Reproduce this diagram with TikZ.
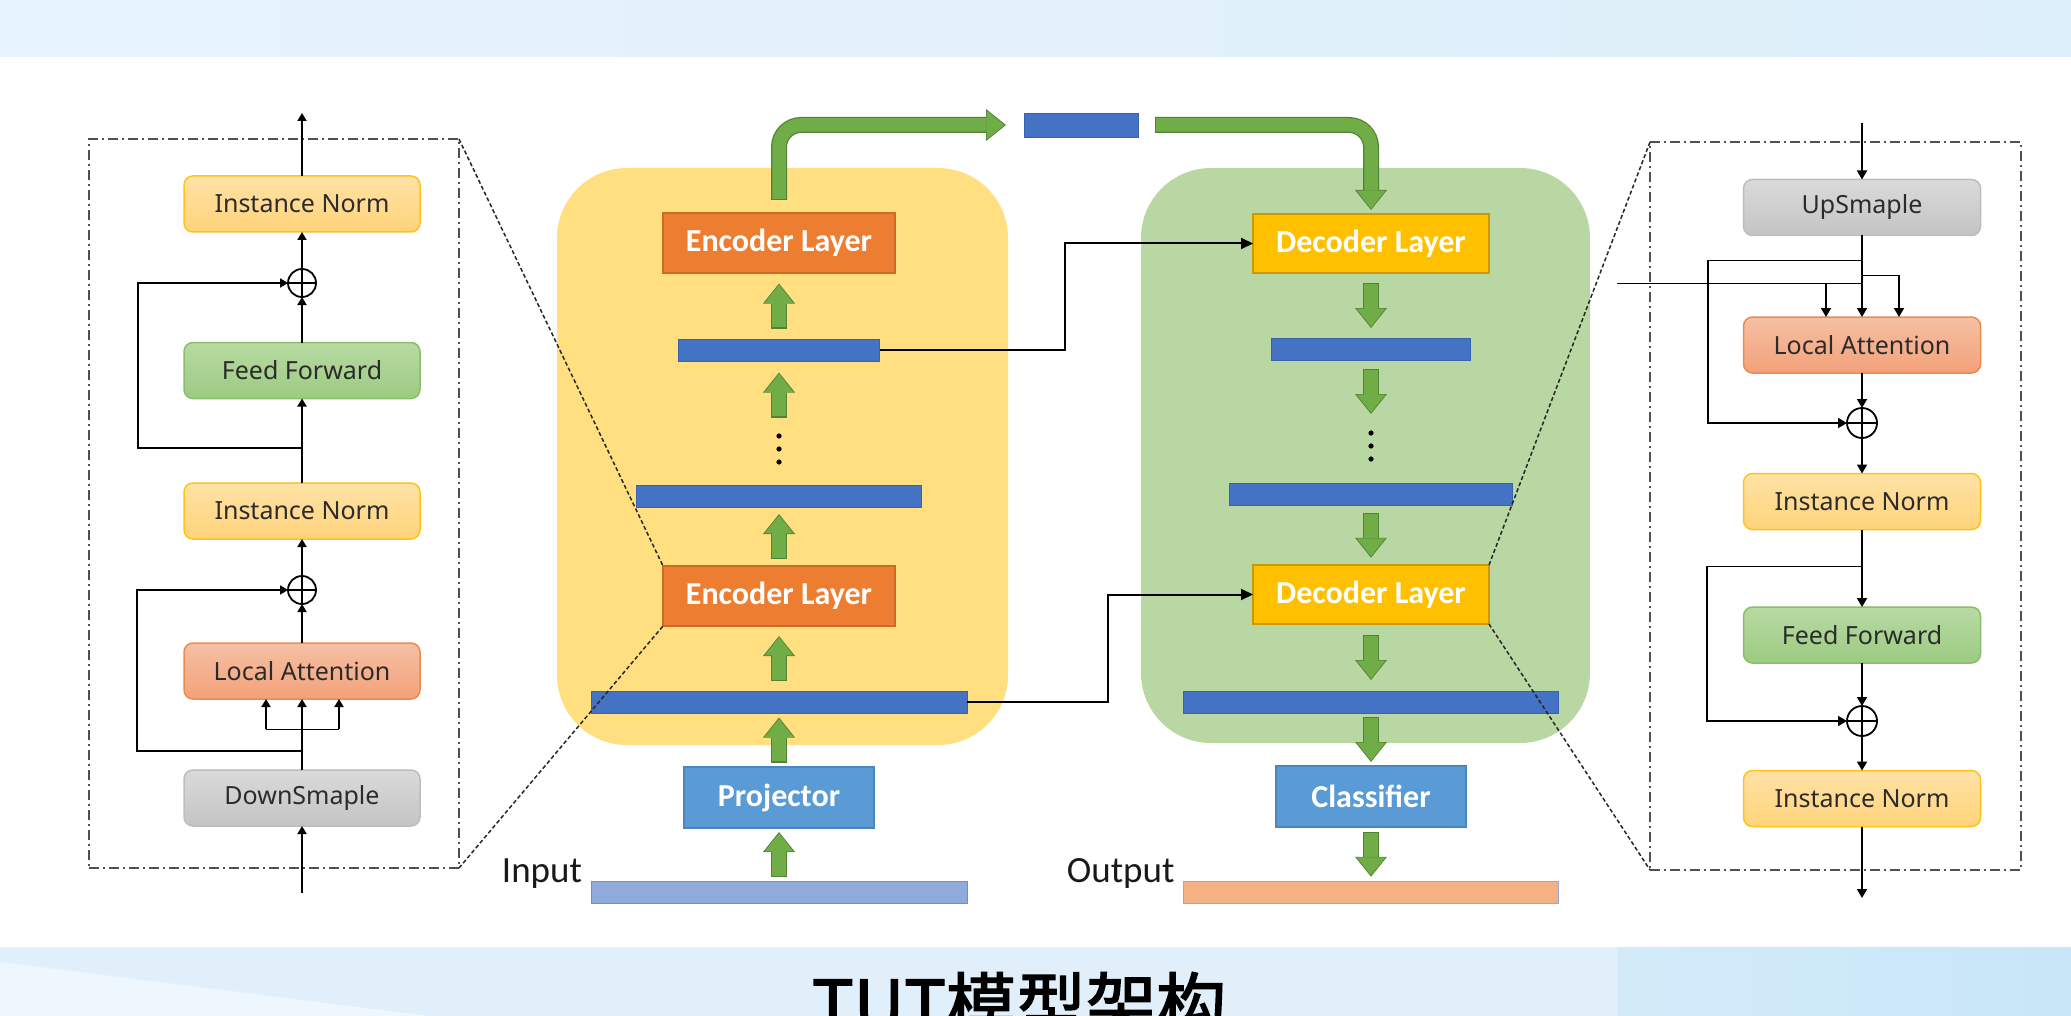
\documentclass[tikz,border=0pt]{standalone}
\usepackage{fontspec}
\setmainfont{Carlito}
\newfontfamily\panelfont{Noto Sans}
\newfontfamily\cjkfont[AutoFakeBold=2]{Noto Sans CJK SC}
\usetikzlibrary{arrows.meta,calc}

% page bands
\definecolor{bandA}{HTML}{E7F3FC}
\definecolor{bandB}{HTML}{DCEEFA}
\definecolor{bandC}{HTML}{E0EFFA}
\definecolor{bandLight}{HTML}{EEF7FD}
\definecolor{bandD}{HTML}{D3EBF9}
\definecolor{bandE}{HTML}{C8E6F7}
% main stacks
\definecolor{encbg}{HTML}{FFDF80}
\definecolor{decbg}{HTML}{B8D7A2}
\definecolor{encorange}{HTML}{ED7D31}
\definecolor{encline}{HTML}{CF6A26}
\definecolor{decgold}{HTML}{FFC000}
\definecolor{decline}{HTML}{CC9A00}
\definecolor{projblue}{HTML}{5B9BD5}
\definecolor{projline}{HTML}{4A86C0}
\definecolor{barblue}{HTML}{4472C4}
\definecolor{barline}{HTML}{3A62AC}
\definecolor{inblue}{HTML}{8FAADC}
\definecolor{inline}{HTML}{6F8FCB}
\definecolor{outpeach}{HTML}{F4B183}
\definecolor{outline}{HTML}{9DA8C9}
\definecolor{gfill}{HTML}{70AD47}
\definecolor{gline}{HTML}{548235}
% block panels
\definecolor{boxtext}{HTML}{2B2B2B}
\definecolor{inTop}{HTML}{FFE2A6}
\definecolor{inBot}{HTML}{FFD37A}
\definecolor{inLine}{HTML}{FFC31A}
\definecolor{ffTop}{HTML}{B7DAA2}
\definecolor{ffBot}{HTML}{9CCB82}
\definecolor{ffLine}{HTML}{88BF68}
\definecolor{laTop}{HTML}{F6C0A4}
\definecolor{laBot}{HTML}{F3A179}
\definecolor{laLine}{HTML}{EE8A4E}
\definecolor{dsTop}{HTML}{DADADA}
\definecolor{dsBot}{HTML}{C4C4C4}
\definecolor{dsLine}{HTML}{BDBDBD}
\definecolor{frameGray}{HTML}{505050}

\tikzset{
  every node/.style={inner sep=0pt, outer sep=0pt},
  region/.style={rectangle, rounded corners=70pt, draw=none},
  enclayer/.style={rectangle, fill=encorange, draw=encline, line width=1.2pt,
    minimum width=232pt, minimum height=60pt, text=white,
    font=\fontsize{32}{36}\selectfont\bfseries},
  declayer/.style={enclayer, fill=decgold, draw=decline,
    minimum width=236pt, minimum height=59pt},
  headbox/.style={enclayer, fill=projblue, draw=projline,
    minimum width=190pt, minimum height=61pt},
  bar/.style={rectangle, fill=barblue, draw=barline, line width=0.8pt,
    minimum height=22pt},
  dotsbox/.style={rectangle, minimum width=10pt, minimum height=40pt},
  iolabel/.style={anchor=base east, text=black!90,
    font=\fontsize{37}{40}\selectfont},
  pbox/.style={rectangle, rounded corners=9pt, minimum width=236pt,
    minimum height=56pt, line width=1.5pt, text=boxtext,
    font=\panelfont\fontsize{25}{30}\selectfont},
  normbox/.style={pbox, top color=inTop, bottom color=inBot, draw=inLine},
  ffbox/.style={pbox, top color=ffTop, bottom color=ffBot, draw=ffLine},
  attbox/.style={pbox, top color=laTop, bottom color=laBot, draw=laLine},
  sampbox/.style={pbox, top color=dsTop, bottom color=dsBot, draw=dsLine},
  plus/.style={circle, draw=black, line width=1.8pt, minimum size=28pt,
    path picture={\draw[line width=1.8pt]
      (path picture bounding box.north) -- (path picture bounding box.south)
      (path picture bounding box.west) -- (path picture bounding box.east);}},
  arr/.style={line width=1.8pt, -{Triangle[width=9pt,length=8pt]}},
  rarr/.style={line width=1.8pt, -{Triangle[width=10pt,length=9pt]}},
  link/.style={line width=2pt, -{Triangle[width=11pt,length=12pt]}},
  frame/.style={rectangle, draw=frameGray, line width=2pt,
    dash pattern=on 10pt off 4pt on 2pt off 4pt},
  zoomline/.style={draw=black!85, line width=1.5pt, dash pattern=on 4pt off 2.5pt},
  gout/.style={line width=16pt, draw=gline,
    -{Triangle[width=32pt,length=20pt,line width=0pt]}},
  gin/.style={line width=13.5pt, draw=gfill,
    -{Triangle[width=28.5pt,length=18pt,line width=0pt]},
    shorten >=1.3pt, shorten <=1.2pt},
  title/.style={anchor=base, text=black,
    font=\cjkfont\bfseries\fontsize{70}{80}\selectfont},
}

% block arrow of fixed length, centred in the gap between two anchors
\newcommand\gstep[2]{%
  \path ($(#1)!0.5!(#2)$) coordinate (gm);
  \draw[gout] ($(gm)!22.5pt!(#1)$) -- ($(gm)!22.5pt!(#2)$);
  \draw[gin]  ($(gm)!22.5pt!(#1)$) -- ($(gm)!22.5pt!(#2)$);}

\begin{document}
\begin{tikzpicture}[x=1pt,y=-1pt]
\useasboundingbox (0,0) rectangle (2071,1016);
\clip (0,0) rectangle (2071,1016);

% ---- page bands and title ----
\fill[left color=bandA, right color=bandB] (0,0) rectangle (2071,57);
\fill[bandC] (0,947) rectangle (2071,1016);
\fill[bandLight] (0,962) -- (430,1016) -- (0,1016) -- cycle;
\fill[left color=bandD, right color=bandE] (1618,947) rectangle (2071,1016);
\node[title] (title) at (1019,1031) {TUT模型架构};

% ---- encoder stack ----
\node[region, fill=encbg, minimum width=451pt, minimum height=577pt] (encR) at (782.5,456.5) {};
\node[enclayer] (enc2) at (779,243) {Encoder Layer};
\node[bar, minimum width=201pt] (eb1) at (779,350) {};
\node[dotsbox] (edots) at (779,449) {};
\node[bar, minimum width=285pt] (eb2) at (779,496) {};
\node[enclayer] (enc1) at (779,596) {Encoder Layer};
\node[bar, minimum width=376pt] (eb3) at (779,702) {};
\node[headbox] (proj) at (779,797.5) {Projector};
\node[bar, fill=inblue, draw=inline, minimum width=376pt] (inbar) at (779,892) {};
\node[iolabel] (inlab) at ($(inbar.west)+(-9,-10)$) {Input};

% ---- memory between the stacks ----
\node[bar, minimum width=114pt, minimum height=24pt] (mid) at (1081,125) {};

% ---- decoder stack ----
\node[region, fill=decbg, minimum width=449pt, minimum height=575pt] (decR) at (1365.5,455.5) {};
\node[declayer] (dec2) at (1371,243.5) {Decoder Layer};
\node[bar, minimum width=199pt] (db1) at (1371,349) {};
\node[dotsbox, minimum height=46pt] (ddots) at (1371,446) {};
\node[bar, minimum width=283pt] (db2) at (1371,494.5) {};
\node[declayer] (dec1) at (1371,594.5) {Decoder Layer};
\node[bar, minimum width=375pt] (db3) at (1371,702) {};
\node[headbox] (cls) at (1371,796.5) {Classifier};
\node[bar, fill=outpeach, draw=outline, minimum width=375pt] (outbar) at (1371,892.5) {};
\node[iolabel] (outlab) at ($(outbar.west)+(-9,-10.5)$) {Output};

% vertical ellipses
\foreach \n in {edots,ddots}
  \foreach \dy in {-13,0,13}
    \fill ($(\n)+(0,\dy)$) circle (2.6pt);

% ---- green flow arrows ----
\gstep{inbar.north}{proj.south}
\gstep{proj.north}{eb3.south}
\gstep{eb3.north}{enc1.south}
\gstep{enc1.north}{eb2.south}
\gstep{edots.north}{eb1.south}
\gstep{eb1.north}{enc2.south}
\gstep{dec2.south}{db1.north}
\gstep{db1.south}{ddots.north}
\gstep{db2.south}{dec1.north}
\gstep{dec1.south}{db3.north}
\gstep{db3.south}{cls.north}
\gstep{cls.south}{outbar.north}

\draw[gout, rounded corners=22pt] ($(enc2.north)+(0,-13)$) |- ($(mid.west)+(-18,0)$);
\draw[gin,  rounded corners=22pt] ($(enc2.north)+(0,-13)$) |- ($(mid.west)+(-18,0)$);
\draw[gout, rounded corners=22pt] ($(mid.east)+(17,0)$) -| ($(dec2.north)+(0,-4)$);
\draw[gin,  rounded corners=22pt] ($(mid.east)+(17,0)$) -| ($(dec2.north)+(0,-4)$);

% ---- encoder-to-decoder links ----
\coordinate (k1) at (1065,0);
\coordinate (k2) at (1108,0);
\draw[link] (eb1.east) -- (eb1.east -| k1) |- (dec2.west);
\draw[link] (eb3.east) -- (eb3.east -| k2) |- (dec1.west);

% ---- encoder block detail ----
\node[frame, minimum width=370pt, minimum height=729pt] (lbox) at (274,503.5) {};
\node[normbox] (lIN2) at (302,204) {Instance Norm};
\node[plus] (lp2) at (302,283) {};
\node[ffbox] (lFF) at (302,370.5) {Feed Forward};
\node[normbox] (lIN1) at (302,511) {Instance Norm};
\node[plus] (lp1) at (302,590) {};
\node[attbox] (lLA) at (302,671) {Local Attention};
\node[sampbox] (lDS) at (302,798) {DownSmaple};
\coordinate (lin) at (302,893);
\coordinate (lout) at (302,113);

\draw[arr] (lin) -- (lDS.south);
\draw[arr] (lDS.north) -- (lLA.south);
\draw ($(lDS.north)+(-36,-41)$) -- ($(lDS.north)+(37,-41)$);
\draw[arr] ($(lDS.north)+(-36,-41)$) -- ($(lLA.south)+(-36,0)$);
\draw[arr] ($(lDS.north)+(37,-41)$) -- ($(lLA.south)+(37,0)$);
\draw[arr] ($(lDS.north)+(0,-19)$) -- ++(-165,0) |- (lp1.west);
\draw[arr] (lLA.north) -- (lp1.south);
\draw[arr] (lp1.north) -- (lIN1.south);
\draw[arr] (lIN1.north) -- (lFF.south);
\draw[arr] ($(lIN1.north)+(0,-35)$) -- ++(-164,0) |- (lp2.west);
\draw[arr] (lFF.north) -- (lp2.south);
\draw[arr] (lp2.north) -- (lIN2.south);
\draw[arr] (lIN2.north) -- (lout);

% ---- decoder block detail ----
\node[frame, minimum width=371pt, minimum height=728pt] (rbox) at (1835.5,506) {};
\node[sampbox, minimum width=237pt] (rUS) at (1862,207.5) {UpSmaple};
\node[attbox, minimum width=237pt] (rLA) at (1862,345) {Local Attention};
\node[plus, minimum size=30pt] (rp1) at (1862,423) {};
\node[normbox, minimum width=237pt] (rIN1) at (1862,501.5) {Instance Norm};
\node[ffbox, minimum width=237pt] (rFF) at (1862,635) {Feed Forward};
\node[plus, minimum size=30pt] (rp2) at (1862,721) {};
\node[normbox, minimum width=237pt] (rIN2) at (1862,798.5) {Instance Norm};
\coordinate (rin) at (1862,123);
\coordinate (rout) at (1862,898);
\coordinate (xin) at (1617,283);

\draw[rarr] (rin) -- (rUS.north);
\draw[rarr] (rUS.south) -- (rLA.north);
\draw[rarr] ($(rUS.south)+(0,25)$) -- ++(-154,0) |- (rp1.west);
\draw[rarr] ($(rUS.south)+(0,40)$) -| ($(rLA.north)+(37,0)$);
\draw (xin) -- (xin -| rUS.south);
\draw[rarr] ($(xin -| rLA.north)+(-36,0)$) -- ($(rLA.north)+(-36,0)$);
\draw[rarr] (rLA.south) -- (rp1.north);
\draw[rarr] (rp1.south) -- (rIN1.north);
\draw[rarr] (rIN1.south) -- (rFF.north);
\draw[rarr] ($(rIN1.south)+(0,37)$) -- ++(-155,0) |- (rp2.west);
\draw[rarr] (rFF.south) -- (rp2.north);
\draw[rarr] (rp2.south) -- (rIN2.north);
\draw[rarr] (rIN2.south) -- (rout);

% ---- zoom guides from the layers to their detail panels ----
\draw[zoomline] (lbox.north east) -- (enc1.north west);
\draw[zoomline] (lbox.south east) -- (enc1.south west);
\draw[zoomline] (dec1.north east) -- (rbox.north west);
\draw[zoomline] (dec1.south east) -- (rbox.south west);
\end{tikzpicture}
\end{document}
